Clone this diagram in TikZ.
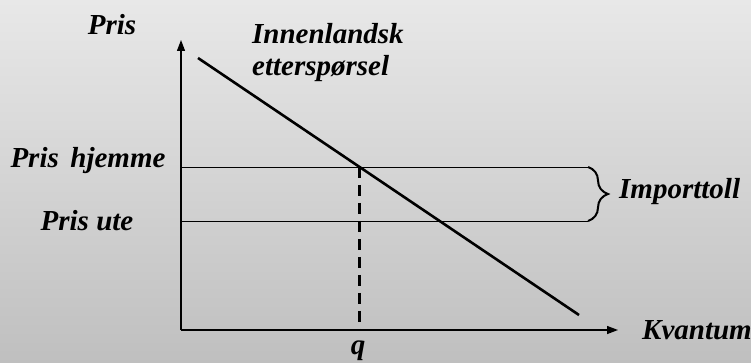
\documentclass[tikz,border=0pt]{standalone}
\usepackage{fontspec}
\setmainfont{Liberation Serif}
\usetikzlibrary{arrows.meta,decorations.pathreplacing,calc}
\begin{document}
\begin{tikzpicture}[x=1pt,y=1pt,
  lbl/.style={font=\fontsize{29}{32}\selectfont\bfseries\itshape, inner sep=0pt, anchor=base},
  axis/.style={line width=1.3pt,-{Triangle[length=11pt,width=8pt]}},
  level/.style={line width=1pt},
  demand/.style={line width=2.6pt},
  guide/.style={line width=2.4pt, dash pattern=on 11pt off 7pt}]
\shade[top color=gray!18!white, bottom color=gray!50!white] (0,0) rectangle (751,362);
\useasboundingbox (0,0) rectangle (751,362);
\coordinate (O) at (181,32);
\coordinate (Ytop) at (181,322);
\coordinate (Xend) at (618,32);
\coordinate (PH0) at (181,195);
\coordinate (PH1) at (588,195);
\coordinate (PU0) at (181,141);
\coordinate (PU1) at (588,141);
\coordinate (D0) at (198,304);
\coordinate (D1) at (579,47);
\coordinate (Q) at ($(D0)!0.424!(D1)$);
\draw[axis] (O) -- (Ytop);
\draw[axis] (O) -- (Xend);
\draw[level] (PH0) -- (PH1);
\draw[level] (PU0) -- (PU1);
\draw[demand] (D0) -- (D1);
\coordinate (Qb) at (Q |- O);
\draw[guide] (Q) -- (Qb);
\draw[line width=2pt, decorate, decoration={brace, amplitude=20pt}] (PH1) -- (PU1);
\node[lbl] (pris) at (112,327) {Pris};
\node[lbl, anchor=base west] (inn) at (252,318) {Innenlandsk};
\node[lbl, anchor=base west] (ett) at (252,286) {etterspørsel};
\node[lbl] (ph) at (88,195) {Pris\hspace{0.4em}hjemme};
\node[lbl] (pu) at (87,132) {Pris ute};
\node[lbl, anchor=base west] (imp) at (619,164) {Importtoll};
\node[lbl, anchor=base west] (kv) at (642,23) {Kvantum};
\node[lbl] (q) at (358,8) {q};
\end{tikzpicture}
\end{document}
